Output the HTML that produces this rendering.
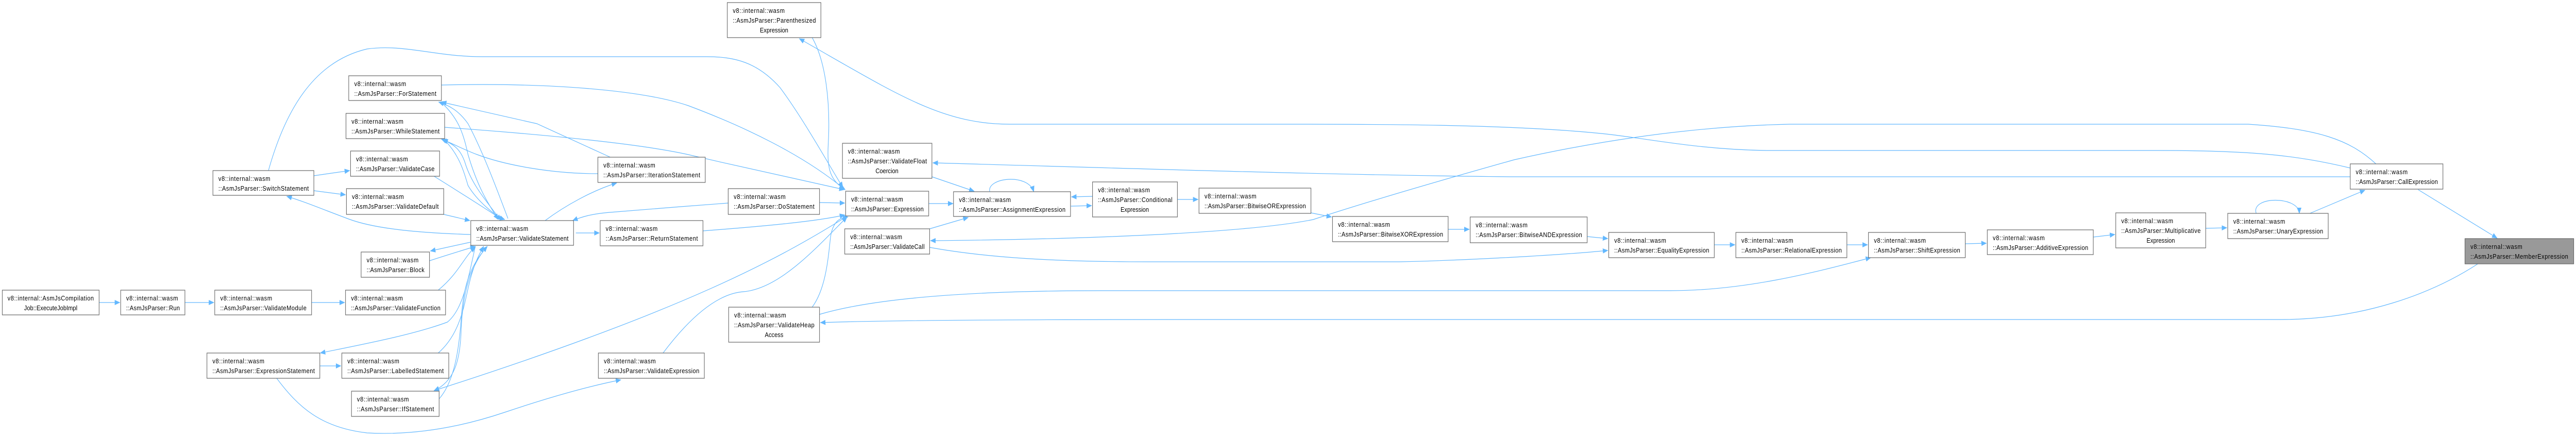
<!DOCTYPE html>
<html><head><meta charset="utf-8"><style>
html,body{margin:0;padding:0;background:#fff;width:100%;height:100%;overflow:hidden;}
svg{display:block;position:absolute;left:0;top:0;width:100vw;height:100vh;}
text{font-family:"Liberation Sans",sans-serif;font-size:12.5px;fill:#000;}
.b{fill:#fff;stroke:#666;stroke-width:1.2;}
.e{fill:none;stroke:#63b8ff;stroke-width:1.2;}
</style></head><body>
<svg viewBox="0 0 5614 846" preserveAspectRatio="none" xmlns="http://www.w3.org/2000/svg" overflow="hidden">
<defs><marker id="a" markerWidth="12" markerHeight="10" refX="11" refY="5" orient="auto" markerUnits="userSpaceOnUse"><path d="M0,0 L12,5 L0,10 z" fill="#63b8ff"/></marker></defs>
<g marker-end="url(#a)">
<path class="e" d="M216,587 L261,587"/>
<path class="e" d="M403,587 L466,587"/>
<path class="e" d="M679,587 L751,587"/>
<path class="e" d="M955,563 C1000,530 1010,500 1036,479"/>
<path class="e" d="M684,341 L762,331"/>
<path class="e" d="M684,370 L753,378"/>
<path class="e" d="M1025,455 C920,452 820,445 760,425 C700,405 660,390 625,381"/>
<path class="e" d="M946,342 C1000,372 1050,400 1094,426"/>
<path class="e" d="M967,416 L1024,428"/>
<path class="e" d="M1107,424 C1080,360 1050,290 1020,240 C1000,215 980,205 956,198"/>
<path class="e" d="M962,199 C1000,230 1010,260 1020,300 C1040,360 1060,390 1086,426"/>
<path class="e" d="M1090,426 C1060,390 1030,360 1015,320 C1005,290 990,280 962,270"/>
<path class="e" d="M969,272 C1000,300 1010,330 1020,360 C1040,390 1080,420 1100,426"/>
<path class="e" d="M1330,305 L1170,240 L962,198"/>
<path class="e" d="M1303,337 C1200,337 1100,320 1040,300 C1010,290 990,280 965,271"/>
<path class="e" d="M1188,428 C1230,400 1290,370 1344,355"/>
<path class="e" d="M1255,452 L1306,452"/>
<path class="e" d="M1587,394 C1500,400 1420,405 1330,412 C1290,415 1270,420 1248,428"/>
<path class="e" d="M1025,470 L938,487"/>
<path class="e" d="M936,506 C970,496 1000,488 1036,478"/>
<path class="e" d="M1036,478 C1020,540 1010,600 975,625 C900,650 780,670 698,685"/>
<path class="e" d="M697,710 L743,710"/>
<path class="e" d="M955,685 C1000,650 1010,600 1020,560 C1030,520 1040,500 1054,478"/>
<path class="e" d="M957,774 C990,740 1000,680 1005,620 C1010,560 1020,520 1062,478"/>
<path class="e" d="M1062,478 C1020,520 1008,580 1005,640 C1003,700 990,740 946,758"/>
<path class="e" d="M603,734 C650,790 700,830 800,840 C900,845 1000,830 1100,800 C1200,770 1280,750 1353,737"/>
<path class="e" d="M585,331 C620,220 680,120 800,95 C880,85 950,110 1050,110 L1540,110 C1600,110 1650,120 1700,170 C1750,230 1800,310 1837,364"/>
<path class="e" d="M962,165 C1200,160 1400,175 1500,205 C1620,245 1750,300 1840,367"/>
<path class="e" d="M969,247 C1200,262 1400,280 1500,300 C1620,325 1750,350 1840,368"/>
<path class="e" d="M1770,73 C1800,120 1810,200 1805,280 C1802,330 1810,350 1842,368"/>
<path class="e" d="M1786,393 L1841,394"/>
<path class="e" d="M1532,448 C1650,440 1780,430 1841,417"/>
<path class="e" d="M1445,685 C1500,620 1560,570 1620,566 C1700,560 1780,480 1846,421"/>
<path class="e" d="M1770,596 C1800,560 1805,500 1810,460 C1815,430 1830,422 1848,421"/>
<path class="e" d="M1840,423 C1700,500 1500,600 946,758"/>
<path class="e" d="M2024,395 L2077,395"/>
<path class="e" d="M2031,343 L2123,371"/>
<path class="e" d="M2026,444 L2110,422"/>
<path class="e" d="M2157,372 C2150,345 2240,335 2253,372"/>
<path class="e" d="M2381,381 L2335,382"/>
<path class="e" d="M2334,400 L2379,399"/>
<path class="e" d="M2566,387 L2611,387"/>
<path class="e" d="M2857,413 L2902,421"/>
<path class="e" d="M3156,445 L3202,445"/>
<path class="e" d="M3459,459 L3504,463"/>
<path class="e" d="M2026,480 C2150,500 2300,508 2500,508 L3050,508 C3200,505 3400,495 3504,486"/>
<path class="e" d="M3736,475 L3781,475"/>
<path class="e" d="M4025,475 L4070,475"/>
<path class="e" d="M5178,318 C5120,270 5050,250 4900,241 L3900,241 C3700,245 3500,270 3300,310 C3100,360 2950,400 2862,426 C2700,455 2300,465 2028,467"/>
<path class="e" d="M5122,326 C5000,300 4900,292 4700,292 L3850,292 C3700,290 3600,270 3500,260 C3300,241 3000,241 2800,241 L2200,241 C2050,241 1950,180 1742,75"/>
<path class="e" d="M5122,343 L3300,343 C2900,340 2400,325 2033,316"/>
<path class="e" d="M1786,610 C1900,580 2100,564 2400,564 L3640,564 C3800,564 3950,530 4077,500"/>
<path class="e" d="M5400,512 C5300,570 5150,620 4970,620 L2600,620 C2200,620 1900,622 1788,626"/>
<path class="e" d="M5270,368 L5442,462"/>
<path class="e" d="M5034,414 L5154,369"/>
<path class="e" d="M4917,414 C4905,380 5010,380 5011,414"/>
<path class="e" d="M4807,443 L4853,442"/>
<path class="e" d="M4562,460 L4609,455"/>
<path class="e" d="M4283,473 L4329,472"/>
</g>

<g>
<rect class="b" x="5" y="563" width="211" height="48"/><text x="110.5" y="583" text-anchor="middle" textLength="188">v8::internal::AsmJsCompilation</text><text x="110.5" y="602" text-anchor="middle">Job::ExecuteJobImpl</text>
<rect class="b" x="263" y="563" width="140" height="48"/><text x="275" y="583" textLength="113">v8::internal::wasm</text><text x="275" y="602" textLength="117">::AsmJsParser::Run</text>
<rect class="b" x="468" y="563" width="211" height="48"/><text x="480" y="583" textLength="113">v8::internal::wasm</text><text x="480" y="602" textLength="188">::AsmJsParser::ValidateModule</text>
<rect class="b" x="753" y="563" width="218" height="48"/><text x="765" y="583" textLength="113">v8::internal::wasm</text><text x="765" y="602" textLength="195">::AsmJsParser::ValidateFunction</text>
<rect class="b" x="464" y="331" width="220" height="48"/><text x="476" y="351" textLength="113">v8::internal::wasm</text><text x="476" y="370" textLength="197">::AsmJsParser::SwitchStatement</text>
<rect class="b" x="760" y="147" width="202" height="48"/><text x="772" y="167" textLength="113">v8::internal::wasm</text><text x="772" y="186" textLength="179">::AsmJsParser::ForStatement</text>
<rect class="b" x="754" y="220" width="215" height="49"/><text x="766" y="240" textLength="113">v8::internal::wasm</text><text x="766" y="259" textLength="192">::AsmJsParser::WhileStatement</text>
<rect class="b" x="764" y="293" width="194" height="49"/><text x="776" y="313" textLength="113">v8::internal::wasm</text><text x="776" y="332" textLength="171">::AsmJsParser::ValidateCase</text>
<rect class="b" x="755" y="366" width="212" height="50"/><text x="767" y="386" textLength="113">v8::internal::wasm</text><text x="767" y="405" textLength="189">::AsmJsParser::ValidateDefault</text>
<rect class="b" x="1026" y="428" width="224" height="48"/><text x="1038" y="448" textLength="113">v8::internal::wasm</text><text x="1038" y="467" textLength="201">::AsmJsParser::ValidateStatement</text>
<rect class="b" x="787" y="489" width="149" height="49"/><text x="799" y="509" textLength="113">v8::internal::wasm</text><text x="799" y="528" textLength="126">::AsmJsParser::Block</text>
<rect class="b" x="451" y="685" width="246" height="49"/><text x="463" y="705" textLength="113">v8::internal::wasm</text><text x="463" y="724" textLength="223">::AsmJsParser::ExpressionStatement</text>
<rect class="b" x="745" y="685" width="233" height="49"/><text x="757" y="705" textLength="113">v8::internal::wasm</text><text x="757" y="724" textLength="210">::AsmJsParser::LabelledStatement</text>
<rect class="b" x="766" y="759" width="191" height="49"/><text x="778" y="779" textLength="113">v8::internal::wasm</text><text x="778" y="798" textLength="168">::AsmJsParser::IfStatement</text>
<rect class="b" x="1303" y="305" width="234" height="49"/><text x="1315" y="325" textLength="113">v8::internal::wasm</text><text x="1315" y="344" textLength="211">::AsmJsParser::IterationStatement</text>
<rect class="b" x="1308" y="428" width="224" height="49"/><text x="1320" y="448" textLength="113">v8::internal::wasm</text><text x="1320" y="467" textLength="201">::AsmJsParser::ReturnStatement</text>
<rect class="b" x="1304" y="685" width="231" height="49"/><text x="1316" y="705" textLength="113">v8::internal::wasm</text><text x="1316" y="724" textLength="208">::AsmJsParser::ValidateExpression</text>
<rect class="b" x="1585" y="5" width="204" height="68"/><text x="1597" y="25" textLength="113">v8::internal::wasm</text><text x="1597" y="44" textLength="181">::AsmJsParser::Parenthesized</text><text x="1687" y="63" text-anchor="middle">Expression</text>
<rect class="b" x="1836" y="278" width="195" height="68"/><text x="1848" y="298" textLength="113">v8::internal::wasm</text><text x="1848" y="317" textLength="172">::AsmJsParser::ValidateFloat</text><text x="1933" y="336" text-anchor="middle">Coercion</text>
<rect class="b" x="1843" y="371" width="181" height="48"/><text x="1855" y="391" textLength="113">v8::internal::wasm</text><text x="1855" y="410" textLength="158">::AsmJsParser::Expression</text>
<rect class="b" x="1587" y="366" width="199" height="50"/><text x="1599" y="386" textLength="113">v8::internal::wasm</text><text x="1599" y="405" textLength="176">::AsmJsParser::DoStatement</text>
<rect class="b" x="1841" y="444" width="185" height="49"/><text x="1853" y="464" textLength="113">v8::internal::wasm</text><text x="1853" y="483" textLength="162">::AsmJsParser::ValidateCall</text>
<rect class="b" x="1588" y="596" width="198" height="68"/><text x="1600" y="616" textLength="113">v8::internal::wasm</text><text x="1600" y="635" textLength="175">::AsmJsParser::ValidateHeap</text><text x="1687" y="654" text-anchor="middle">Access</text>
<rect class="b" x="2078" y="372" width="255" height="48"/><text x="2090" y="392" textLength="113">v8::internal::wasm</text><text x="2090" y="411" textLength="232">::AsmJsParser::AssignmentExpression</text>
<rect class="b" x="2381" y="353" width="185" height="68"/><text x="2393" y="373" textLength="113">v8::internal::wasm</text><text x="2393" y="392" textLength="162">::AsmJsParser::Conditional</text><text x="2473" y="411" text-anchor="middle">Expression</text>
<rect class="b" x="2613" y="365" width="244" height="49"/><text x="2625" y="385" textLength="113">v8::internal::wasm</text><text x="2625" y="404" textLength="221">::AsmJsParser::BitwiseORExpression</text>
<rect class="b" x="2904" y="420" width="252" height="49"/><text x="2916" y="440" textLength="113">v8::internal::wasm</text><text x="2916" y="459" textLength="229">::AsmJsParser::BitwiseXORExpression</text>
<rect class="b" x="3204" y="421" width="255" height="50"/><text x="3216" y="441" textLength="113">v8::internal::wasm</text><text x="3216" y="460" textLength="232">::AsmJsParser::BitwiseANDExpression</text>
<rect class="b" x="3506" y="451" width="230" height="49"/><text x="3518" y="471" textLength="113">v8::internal::wasm</text><text x="3518" y="490" textLength="207">::AsmJsParser::EqualityExpression</text>
<rect class="b" x="3783" y="451" width="242" height="49"/><text x="3795" y="471" textLength="113">v8::internal::wasm</text><text x="3795" y="490" textLength="219">::AsmJsParser::RelationalExpression</text>
<rect class="b" x="4072" y="451" width="211" height="49"/><text x="4084" y="471" textLength="113">v8::internal::wasm</text><text x="4084" y="490" textLength="188">::AsmJsParser::ShiftExpression</text>
<rect class="b" x="4331" y="446" width="231" height="48"/><text x="4343" y="466" textLength="113">v8::internal::wasm</text><text x="4343" y="485" textLength="208">::AsmJsParser::AdditiveExpression</text>
<rect class="b" x="4611" y="413" width="196" height="68"/><text x="4623" y="433" textLength="113">v8::internal::wasm</text><text x="4623" y="452" textLength="173">::AsmJsParser::Multiplicative</text><text x="4709" y="471" text-anchor="middle">Expression</text>
<rect class="b" x="4855" y="414" width="219" height="49"/><text x="4867" y="434" textLength="113">v8::internal::wasm</text><text x="4867" y="453" textLength="196">::AsmJsParser::UnaryExpression</text>
<rect class="b" x="5122" y="318" width="202" height="49"/><text x="5134" y="338" textLength="113">v8::internal::wasm</text><text x="5134" y="357" textLength="179">::AsmJsParser::CallExpression</text>
<rect x="5372" y="463" width="237" height="49" fill="#999" stroke="#666" stroke-width="1.2"/><text x="5384" y="483" textLength="113">v8::internal::wasm</text><text x="5384" y="502" textLength="213">::AsmJsParser::MemberExpression</text>
</g>
</svg>
</body></html>
